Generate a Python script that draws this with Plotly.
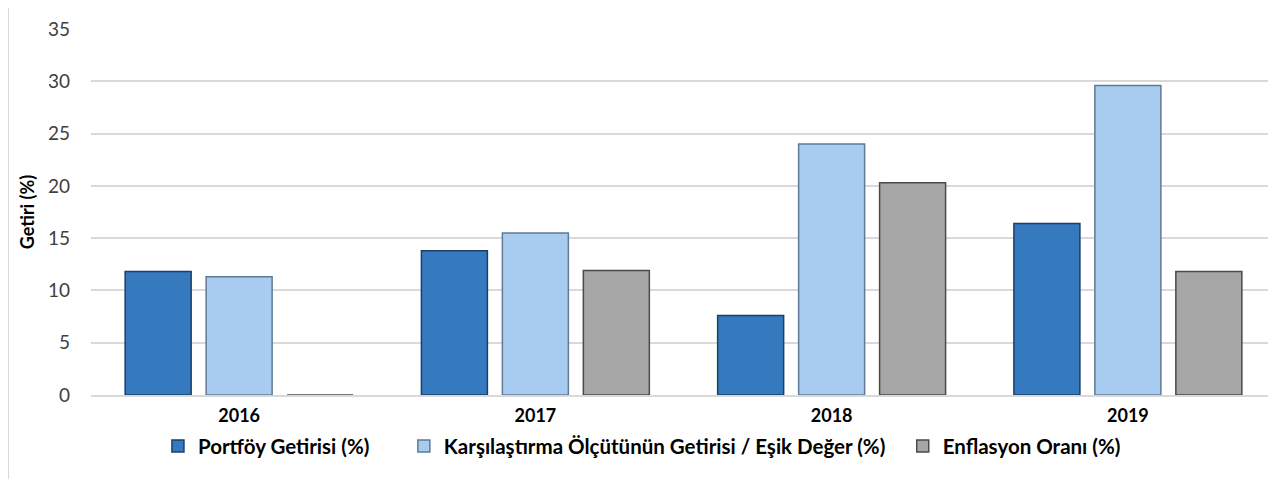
import plotly.graph_objects as go

years = ["2016", "2017", "2018", "2019"]
series_names = [
    "Portföy Getirisi (%)",
    "Karşılaştırma Ölçütünün Getirisi / Eşik Değer (%)",
    "Enflasyon Oranı (%)",
]
portfoy = [11.8, 13.8, 7.6, 16.4]
karsilastirma = [11.3, 15.5, 24.0, 29.6]
enflasyon = [0.0, 11.9, 20.3, 11.8]
y_ticks = [0, 5, 10, 15, 20, 25, 30, 35]

fills = ["#3579BF", "#A8CCF0", "#A6A6A6"]
edges = ["#1B3F66", "#5F7A96", "#4A4A4A"]
legend_ids = ["legend", "legend2", "legend3"]
legend_x = [0.0565, 0.264, 0.685]

FONT = "Lato"
legend_font = dict(family=FONT, size=20.5, color="#000000", weight="bold")

fig = go.Figure()
for name, vals, fc, ec, lid in zip(series_names, [portfoy, karsilastirma, enflasyon], fills, edges, legend_ids):
    fig.add_trace(go.Bar(
        x=years, y=vals, name=name, legend=lid,
        marker=dict(color=fc, line=dict(color=ec, width=1.5)),
    ))

legends = {}
for lid, lx in zip(legend_ids, legend_x):
    legends[lid] = dict(
        orientation="h", x=lx, xanchor="left", y=-0.085, yanchor="top",
        font=legend_font, bgcolor="rgba(0,0,0,0)", itemwidth=30,
    )

fig.update_layout(
    width=1276, height=479,
    margin=dict(l=83, r=8, t=21, b=92),
    paper_bgcolor="white", plot_bgcolor="white",
    barmode="group", bargap=0.18, bargroupgap=0.185,
    font=dict(family=FONT, color="#404040"),
    showlegend=True,
    xaxis=dict(
        showgrid=False, showline=True, linecolor="#D9D9D9", linewidth=1.5,
        ticks="", tickfont=dict(family=FONT, size=18, color="#000000", weight="bold"),
        ticklabelstandoff=4,
    ),
    yaxis=dict(
        range=[0, 35], tickvals=y_ticks, showgrid=True, gridcolor="#D9D9D9", gridwidth=1.5,
        zeroline=False, showline=False,
        tickfont=dict(family=FONT, size=19, color="#404040"),
        ticklabelstandoff=20,
        title=dict(text="Getiri (%)", font=dict(family=FONT, size=18, color="#000000", weight="bold"), standoff=8),
    ),
    shapes=[dict(
        type="rect", xref="paper", yref="paper",
        x0=-0.070, x1=1.02, y0=-0.3, y1=1.067,
        line=dict(color="#D9D9D9", width=2), fillcolor="rgba(0,0,0,0)", layer="below",
    )],
    **legends,
)

fig.write_html("out.html")
